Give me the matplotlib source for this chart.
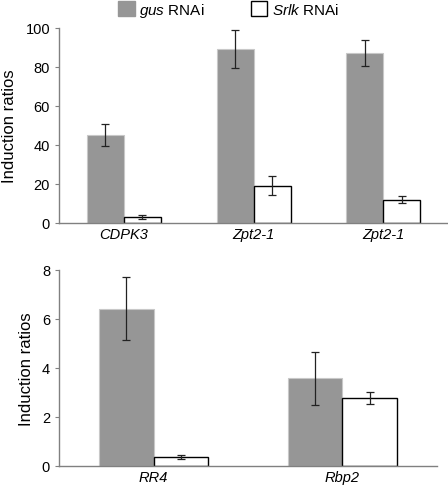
import numpy as np
import matplotlib
matplotlib.use("Agg")
import matplotlib.pyplot as plt

plt.rcParams['font.family'] = ['Liberation Sans', 'DejaVu Sans']
plt.rcParams['mathtext.fontset'] = 'custom'
plt.rcParams['mathtext.it'] = 'Liberation Sans:italic'
plt.rcParams['mathtext.rm'] = 'Liberation Sans'

# --- data ---
genes_top = ['CDPK3', 'Zpt2-1', 'Zpt2-1']
gus_top = [45.0, 89.0, 87.0]
gus_top_err = [5.5, 9.7, 6.7]
srlk_top = [3.2, 19.2, 12.0]
srlk_top_err = [1.0, 5.0, 1.7]

genes_bot = ['RR4', 'Rbp2']
gus_bot = [6.42, 3.57]
gus_bot_err = [1.28, 1.1]
srlk_bot = [0.36, 2.77]
srlk_bot_err = [0.08, 0.25]

gus_color = '#969696'
spine_color = '#808080'

fig = plt.figure(figsize=(4.48, 4.89), dpi=100)
ax1 = fig.add_axes([0.132, 0.542, 0.868, 0.399])
ax2 = fig.add_axes([0.132, 0.045, 0.843, 0.401])


def draw(ax, genes, gus, gus_err, srlk, srlk_err, ymax, step, bw):
    x = np.arange(len(genes)) + 0.5
    ekw = dict(ecolor='#222222', elinewidth=0.9, capsize=3, capthick=0.9)
    b1 = ax.bar(x - bw / 2, gus, bw, yerr=gus_err, color=gus_color,
                edgecolor='#c8c8c8', linewidth=0.8, error_kw=ekw)
    b2 = ax.bar(x + bw / 2, srlk, bw, yerr=srlk_err, color='white',
                edgecolor='black', linewidth=1.0, error_kw=ekw)
    ax.set_xlim(0, len(genes))
    ax.set_ylim(0, ymax)
    ax.set_yticks(np.arange(0, ymax + 0.01, step))
    ax.set_xticks(x)
    ax.set_xticklabels(genes, style='italic', fontsize=10.5)
    ax.tick_params(axis='x', length=0, pad=3)
    ax.tick_params(axis='y', labelsize=10.5, length=3, color=spine_color)
    for s in ['top', 'right']:
        ax.spines[s].set_visible(False)
    for s in ['left', 'bottom']:
        ax.spines[s].set_color(spine_color)
        ax.spines[s].set_linewidth(1.0)
    ax.set_ylabel('Induction ratios', fontsize=12, labelpad=6)
    return b1, b2


b1, b2 = draw(ax1, genes_top, gus_top, gus_top_err, srlk_top, srlk_top_err, 100, 20, 0.285)
draw(ax2, genes_bot, gus_bot, gus_bot_err, srlk_bot, srlk_bot_err, 8, 2, 0.29)

from matplotlib.patches import Patch
h1 = Patch(facecolor=gus_color, edgecolor=gus_color)
h2 = Patch(facecolor='white', edgecolor='black', linewidth=1.0)
fig.legend([h1, h2], [r'$\it{gus}$ RNAi', r'$\it{Srlk}$ RNAi'],
           loc='upper center', bbox_to_anchor=(0.51, 1.025), ncol=2,
           frameon=False, fontsize=11, handlelength=1.1, handleheight=1.1,
           handletextpad=0.3, columnspacing=3.0)

fig.savefig('out.png', dpi=100)
